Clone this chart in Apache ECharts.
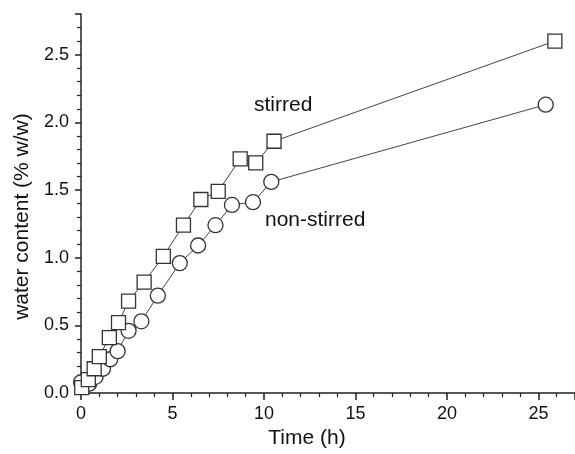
<!DOCTYPE html>
<html>
<head>
<meta charset="utf-8">
<script src="https://cdn.jsdelivr.net/npm/echarts@6/dist/echarts.min.js"></script>
<style>html,body{margin:0;padding:0;background:#fff;}#c{width:575px;height:454px;}</style>
</head>
<body>
<div id="c"></div>
<script>
// Stirred (squares)
const stirredTime  = [0.04, 0.4, 0.72, 1.0, 1.55, 2.05, 2.6, 3.45, 4.5, 5.6, 6.55, 7.5, 8.7, 9.55, 10.55, 25.9];
const stirredWater = [0.04, 0.10, 0.18, 0.27, 0.41, 0.52, 0.68, 0.82, 1.01, 1.24, 1.43, 1.49, 1.73, 1.70, 1.86, 2.60];
// Non-stirred (circles)
const nonStirredTime  = [0.0, 0.45, 0.8, 1.2, 1.6, 2.0, 2.6, 3.3, 4.2, 5.4, 6.4, 7.35, 8.25, 9.4, 10.4, 25.4];
const nonStirredWater = [0.08, 0.07, 0.12, 0.18, 0.25, 0.31, 0.46, 0.53, 0.72, 0.96, 1.09, 1.24, 1.39, 1.41, 1.56, 2.13];
const xTitle = 'Time (h)';
const yTitle = 'water content (% w/w)';
const labelStirred = 'stirred';
const labelNonStirred = 'non-stirred';

const font = 'Liberation Sans, Arial, Helvetica, sans-serif';
const zip = (a, b) => a.map((v, i) => [v, b[i]]);

const chart = echarts.init(document.getElementById('c'), null, {renderer: 'canvas'});
chart.setOption({
  animation: false,
  backgroundColor: '#fff',
  grid: {left: 81, right: -2, top: 14, bottom: 55, containLabel: false},
  xAxis: {
    type: 'value', min: 0, max: 27, interval: 5,
    name: xTitle, nameLocation: 'middle', nameGap: 33,
    nameTextStyle: {fontFamily: font, fontSize: 21, color: '#111', padding: [0, 42, 0, 0]},
    axisLine: {show: true, onZero: false, lineStyle: {color: '#222', width: 1.5}},
    axisTick: {show: true, inside: false, length: 7, lineStyle: {color: '#222', width: 1.5}},
    minorTick: {show: true, splitNumber: 5, length: 4, lineStyle: {color: '#222', width: 1.2}},
    axisLabel: {fontFamily: font, fontSize: 18, color: '#111', margin: 12, showMaxLabel: false},
    splitLine: {show: false}
  },
  yAxis: {
    type: 'value', min: 0, max: 2.8, interval: 0.5,
    name: yTitle, nameLocation: 'middle', nameGap: 46, nameRotate: 90,
    nameTextStyle: {fontFamily: font, fontSize: 21, color: '#111', padding: [0, 26, 0, 0]},
    axisLine: {show: true, onZero: false, lineStyle: {color: '#222', width: 1.5}},
    axisTick: {show: true, inside: false, length: 6, lineStyle: {color: '#222', width: 1.5}},
    minorTick: {show: true, splitNumber: 5, length: 4, lineStyle: {color: '#222', width: 1.2}},
    axisLabel: {fontFamily: font, fontSize: 18, color: '#111', margin: 12, showMaxLabel: false,
      formatter: v => v.toFixed(1)},
    splitLine: {show: false}
  },
  series: [
    {
      name: 'non-stirred', type: 'line', data: zip(nonStirredTime, nonStirredWater),
      symbol: 'circle', symbolSize: 15,
      lineStyle: {color: '#444', width: 1},
      itemStyle: {color: '#fff', borderColor: '#333', borderWidth: 1.3},
      z: 2
    },
    {
      name: 'stirred', type: 'line', data: zip(stirredTime, stirredWater),
      symbol: 'rect', symbolSize: 14,
      lineStyle: {color: '#444', width: 1},
      itemStyle: {color: '#fff', borderColor: '#333', borderWidth: 1.3},
      z: 3
    }
  ],
  graphic: [
    {type: 'text', left: 254, top: 95, style: {text: labelStirred, font: '21px ' + font, fill: '#111'}},
    {type: 'text', left: 265, top: 210, style: {text: labelNonStirred, font: '21px ' + font, fill: '#111'}}
  ]
});
</script>
</body>
</html>
